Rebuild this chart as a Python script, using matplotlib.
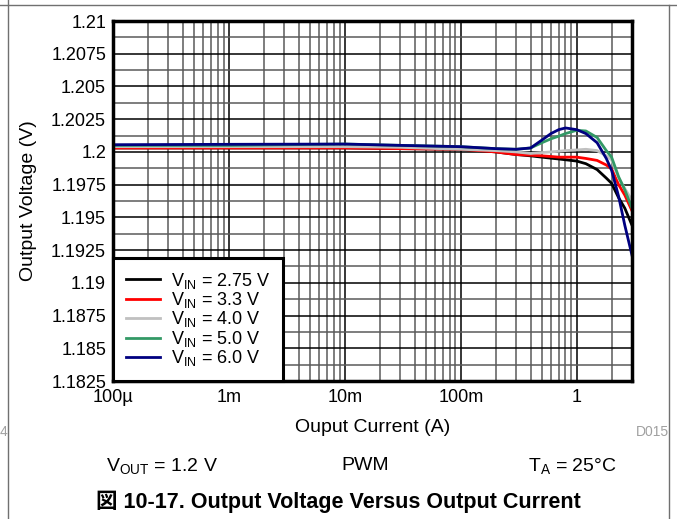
import numpy as np
import matplotlib
matplotlib.use("Agg")
import matplotlib.pyplot as plt
from matplotlib.ticker import FixedLocator, NullFormatter, LogLocator

plt.rcParams['font.family'] = ['Liberation Sans', 'Noto Sans CJK JP', 'DejaVu Sans']
plt.rcParams['mathtext.fontset'] = 'custom'
plt.rcParams['mathtext.rm'] = 'Liberation Sans'

# output current (A) and output voltage (V) for each input voltage
current = [1e-4, 1e-3, 0.01, 0.03, 0.1, 0.2, 0.3, 0.4, 0.5, 0.6, 0.7, 0.8,
           1.0, 1.2, 1.5, 1.8, 2.0, 2.3, 2.6, 3.0]
v_275 = [1.2003, 1.2003, 1.2003, 1.20025, 1.2002, 1.2000, 1.1998, 1.1997, 1.1996, 1.19952, 1.19946, 1.1994,
         1.1993, 1.1991, 1.19865, 1.1980, 1.1976, 1.1965, 1.1957, 1.1944]
v_33 = [1.2003, 1.2003, 1.2003, 1.20025, 1.2002, 1.2000, 1.1998, 1.19975, 1.1997, 1.19965, 1.1996, 1.1996,
        1.1996, 1.1995, 1.19935, 1.1990, 1.1987, 1.1975, 1.1967, 1.1955]
v_40 = [1.2004, 1.2004, 1.2004, 1.20035, 1.2002, 1.2001, 1.2000, 1.19988, 1.19995, 1.2, 1.20005, 1.2001,
        1.20015, 1.2002, 1.2001, 1.1997, 1.1994, 1.1980, 1.1972, 1.1963]
v_50 = [1.2005, 1.2005, 1.2006, 1.2005, 1.2004, 1.20025, 1.2002, 1.2003, 1.2007, 1.2010, 1.2012, 1.2014,
        1.20165, 1.2016, 1.2011, 1.2001, 1.1996, 1.1981, 1.1971, 1.1957]
v_60 = [1.20055, 1.20058, 1.2006, 1.2005, 1.2004, 1.20025, 1.2002, 1.2003, 1.2009, 1.2014, 1.2017, 1.20183,
        1.2017, 1.2014, 1.2007, 1.1995, 1.1986, 1.1966, 1.1944, 1.1921]

series = [(v_275, 'black', '2.75'), (v_33, '#ff0000', '3.3'), (v_40, '#c0c0c0', '4.0'),
          (v_50, '#339966', '5.0'), (v_60, '#000080', '6.0')]

x_ticks = [1e-4, 1e-3, 1e-2, 1e-1, 1]
x_labels = ['100\u00b5', '1m', '10m', '100m', '1']
y_ticks = [1.1825, 1.185, 1.1875, 1.19, 1.1925, 1.195, 1.1975, 1.2, 1.2025, 1.205, 1.2075, 1.21]
y_labels = ['1.1825', '1.185', '1.1875', '1.19', '1.1925', '1.195', '1.1975', '1.2',
            '1.2025', '1.205', '1.2075', '1.21']

fig = plt.figure(figsize=(6.77, 5.19), dpi=100)
ax = fig.add_axes([113/677, 1 - 381/519, (632 - 113)/677, (381 - 21)/519])

for vals, col, lab in series:
    ax.plot(current, vals, color=col, lw=2,
            label=r'$\mathregular{V_{IN}}$ = ' + lab + ' V')

ax.set_xscale('log')
ax.set_xlim(1e-4, 3)
ax.set_ylim(1.1825, 1.21)
ax.set_xticks(x_ticks)
ax.set_xticklabels(x_labels)
ax.xaxis.set_minor_locator(LogLocator(base=10, subs=np.arange(2, 10)))
ax.xaxis.set_minor_formatter(NullFormatter())
ax.set_yticks(y_ticks)
ax.set_yticklabels(y_labels)
ax.yaxis.set_minor_locator(FixedLocator(np.array(y_ticks[:-1]) + 0.00125))
ax.tick_params(which='both', length=0, labelsize=13)
ax.tick_params(axis='x', pad=6)
ax.tick_params(axis='y', pad=5)
ax.grid(which='major', color='black', lw=1.1)
ax.grid(which='minor', color='#5a5a5a', lw=1.1)
ax.set_axisbelow(True)
for s in ax.spines.values():
    s.set_linewidth(2.5)

ax.set_xlabel('Ouput Current (A)', fontsize=14, labelpad=9)
ax.set_ylabel('Output Voltage (V)', fontsize=14, labelpad=10)

leg = ax.legend(loc='lower left', fontsize=13, frameon=True, fancybox=False,
                borderaxespad=0, handlelength=1.9, handletextpad=0.6,
                labelspacing=-0.03, borderpad=0.7, framealpha=1)
leg.get_frame().set_edgecolor('black')
leg.get_frame().set_linewidth(2.2)

# page frame lines
fig.add_artist(plt.Line2D([0, 1], [1 - 5/519, 1 - 5/519], color='#707070', lw=1))
fig.add_artist(plt.Line2D([8/677, 8/677], [0, 1], color='#707070', lw=1))
fig.add_artist(plt.Line2D([669/677, 669/677], [0, 1 - 5/519], color='#707070', lw=1))

fig.text(3/677, 1 - 432/519, '4', fontsize=10, color='#a0a0a0', ha='center', va='center')
fig.text(652/677, 1 - 432/519, 'D015', fontsize=10, color='#a0a0a0', ha='center', va='center')
fig.text(162/677, 1 - 466/519, r'$\mathregular{V_{OUT}}$ = 1.2 V', fontsize=14, ha='center', va='center')
fig.text(365/677, 1 - 466/519, 'PWM', fontsize=14, ha='center', va='center')
fig.text(572/677, 1 - 466/519, r'$\mathregular{T_A}$ = 25°C', fontsize=14, ha='center', va='center')
fig.text(338/677, 1 - 502/519, '図 10-17. Output Voltage Versus Output Current',
         fontsize=15.5, fontweight='bold', ha='center', va='center')

fig.savefig('out.png', dpi=100)
